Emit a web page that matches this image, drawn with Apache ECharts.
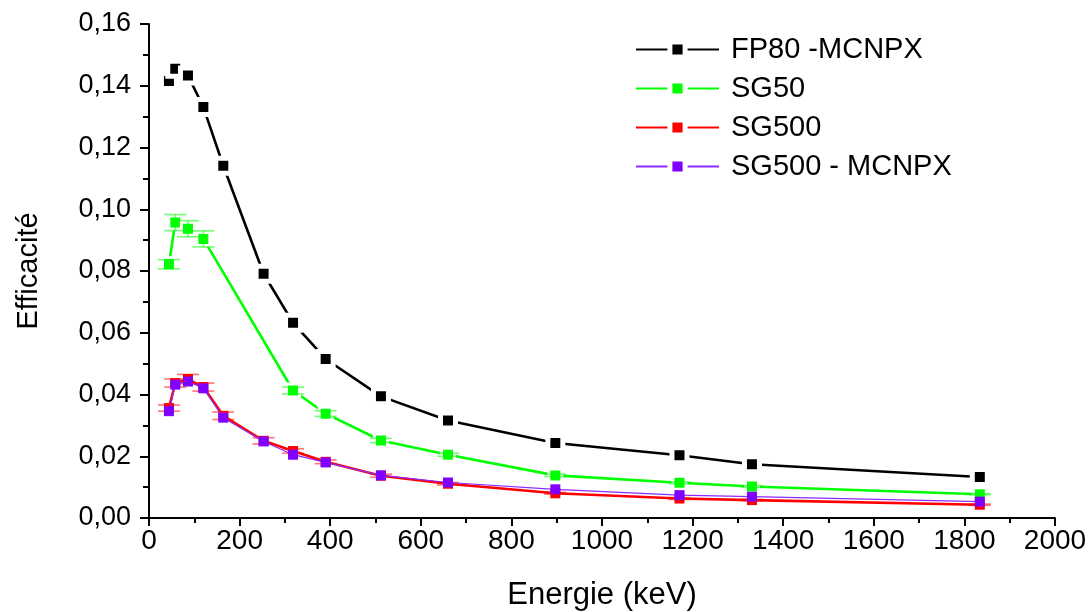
<!DOCTYPE html>
<html>
<head>
<meta charset="utf-8">
<script src="https://cdn.jsdelivr.net/npm/echarts@6/dist/echarts.min.js"></script>
<style>
html,body{margin:0;padding:0;background:#fff;}
#chart{width:1092px;height:612px;}
</style>
</head>
<body>
<div id="chart"></div>
<script>
// ---- data ----
const energies = [44, 58, 86, 120, 164, 253, 318, 390, 512, 660, 897, 1171, 1331, 1834];
const energiesSG50 = [44, 58, 86, 120, 318, 390, 512, 660, 897, 1171, 1331, 1834];
const fp80Mcnpx = [0.1415, 0.1455, 0.1433, 0.1331, 0.1141, 0.0791, 0.0632, 0.0515, 0.0394, 0.0316, 0.0243, 0.0203, 0.0174, 0.0133];
const sg50 = [0.0822, 0.0957, 0.0937, 0.0904, 0.0413, 0.0338, 0.0251, 0.0205, 0.0138, 0.0114, 0.0102, 0.0077];
const sg50Err = [0.0015, 0.0026, 0.0026, 0.0026, 0.0011, 0.0009, 0.0007, 0.0005, 0.0004, 0.0003, 0.0003, 0.0002];
const sg500 = [0.0356, 0.0437, 0.0450, 0.0424, 0.0331, 0.0250, 0.0217, 0.0182, 0.0137, 0.0111, 0.0080, 0.0063, 0.0058, 0.0043];
const sg500Err = [0.0010, 0.0013, 0.0015, 0.0013, 0.0012, 0.0010, 0.0007, 0.0006, 0.0005, 0.0004, 0.0003, 0.0003, 0.0002, 0.0002];
const sg500Mcnpx = [0.0346, 0.0432, 0.0442, 0.0420, 0.0325, 0.0248, 0.0205, 0.0180, 0.0138, 0.0115, 0.0093, 0.0074, 0.0069, 0.0053];
const seriesNames = ['FP80 -MCNPX', 'SG50', 'SG500', 'SG500 - MCNPX'];
const xTickValues = [0, 200, 400, 600, 800, 1000, 1200, 1400, 1600, 1800, 2000];

const FONT = "'Liberation Sans', Arial, sans-serif";
const pairs = (xs, ys) => xs.map((x, i) => [x, ys[i]]);
const errPairs = (xs, ys, es) => xs.map((x, i) => [x, ys[i] - es[i], ys[i] + es[i]]);

function errRender(color) {
  return function (params, api) {
    const x = api.value(0), lo = api.value(1), hi = api.value(2);
    const pHi = api.coord([x, hi]);
    const pLo = api.coord([x, lo]);
    const w = 11;
    const st = { stroke: color, lineWidth: 1.6 };
    return {
      type: 'group',
      children: [
        { type: 'line', shape: { x1: pHi[0], y1: pHi[1], x2: pLo[0], y2: pLo[1] }, style: st },
        { type: 'line', shape: { x1: pHi[0] - w, y1: pHi[1], x2: pHi[0] + w, y2: pHi[1] }, style: st },
        { type: 'line', shape: { x1: pLo[0] - w, y1: pLo[1], x2: pLo[0] + w, y2: pLo[1] }, style: st }
      ]
    };
  };
}

const chart = echarts.init(document.getElementById('chart'), null, { renderer: 'canvas' });
chart.setOption({
  animation: false,
  backgroundColor: '#ffffff',
  grid: { left: 149, right: 37, top: 24, bottom: 94, containLabel: false, outerBoundsMode: 'none' },
  legend: {
    data: seriesNames,
    orient: 'vertical',
    left: 630,
    top: 30,
    itemWidth: 83,
    itemHeight: 19,
    itemGap: 10,
    itemStyle: { borderColor: '#ffffff', borderWidth: 5 },
    textStyle: { fontFamily: FONT, fontSize: 29, color: '#000', lineHeight: 29, padding: [0, 0, 0, 7] }
  },
  xAxis: {
    type: 'value',
    min: 0, max: 2000, interval: 200,
    name: 'Energie (keV)',
    nameLocation: 'middle',
    nameGap: 62,
    nameTextStyle: { fontFamily: FONT, fontSize: 31, color: '#000' },
    axisLine: { show: true, onZero: false, lineStyle: { color: '#000', width: 2 } },
    axisTick: { show: true, inside: false, length: 8, lineStyle: { color: '#000', width: 2 } },
    minorTick: { show: true, splitNumber: 2, length: 5, lineStyle: { color: '#000', width: 2 } },
    axisLabel: {
      fontFamily: FONT, fontSize: 28, color: '#000', margin: 9,
      customValues: xTickValues,
      formatter: v => String(v)
    },
    splitLine: { show: false }
  },
  yAxis: {
    type: 'value',
    min: 0, max: 0.16, interval: 0.02,
    name: 'Efficacité',
    nameLocation: 'middle',
    nameGap: 106,
    nameRotate: 90,
    nameTextStyle: { fontFamily: FONT, fontSize: 29, color: '#000' },
    axisLine: { show: true, onZero: false, lineStyle: { color: '#000', width: 2 } },
    axisTick: { show: true, inside: false, length: 9, lineStyle: { color: '#000', width: 2 } },
    minorTick: { show: true, splitNumber: 2, length: 6, lineStyle: { color: '#000', width: 2 } },
    axisLabel: {
      fontFamily: FONT, fontSize: 27, color: '#000', margin: 18,
      formatter: v => v.toFixed(2).replace('.', ',')
    },
    splitLine: { show: false }
  },
  series: [
    {
      name: seriesNames[0], type: 'line', data: pairs(energies, fp80Mcnpx),
      symbol: 'rect', symbolSize: 15,
      itemStyle: { color: '#000000', borderColor: '#ffffff', borderWidth: 5 },
      lineStyle: { color: '#000000', width: 2.6 }, z: 2
    },
    {
      name: seriesNames[1], type: 'line', data: pairs(energiesSG50, sg50),
      symbol: 'rect', symbolSize: 13,
      itemStyle: { color: '#00ff00', borderColor: '#ffffff', borderWidth: 3 },
      lineStyle: { color: '#00ff00', width: 2.6 }, z: 3
    },
    {
      name: 'SG50 err', type: 'custom', data: errPairs(energiesSG50, sg50, sg50Err),
      renderItem: errRender('rgba(0,255,0,0.55)'), z: 4, silent: true,
      encode: { x: 0, y: [1, 2] }
    },
    {
      name: seriesNames[2], type: 'line', data: pairs(energies, sg500),
      symbol: 'rect', symbolSize: 10,
      itemStyle: { color: '#ff0000' },
      lineStyle: { color: '#ff0000', width: 2.6 }, z: 5
    },
    {
      name: 'SG500 err', type: 'custom', data: errPairs(energies, sg500, sg500Err),
      renderItem: errRender('rgba(255,0,0,0.55)'), z: 6, silent: true,
      encode: { x: 0, y: [1, 2] }
    },
    {
      name: seriesNames[3], type: 'line', data: pairs(energies, sg500Mcnpx),
      symbol: 'rect', symbolSize: 10,
      itemStyle: { color: '#7f00ff' },
      lineStyle: { color: '#8a2bff', width: 1.2 }, z: 7
    }
  ]
});
</script>
</body>
</html>
